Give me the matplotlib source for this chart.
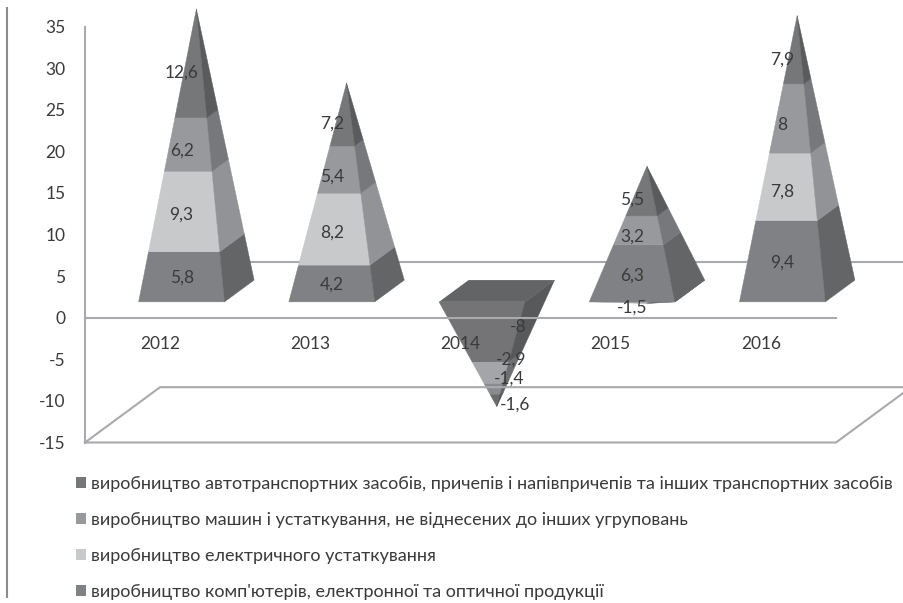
import matplotlib
matplotlib.use("Agg")
import matplotlib.pyplot as plt
from matplotlib.lines import Line2D
from matplotlib.patches import Patch, Polygon
import numpy as np

plt.rcParams["font.family"] = ["Lato", "Open Sans", "DejaVu Sans"]
plt.rcParams["axes.unicode_minus"] = False

years = ["2012", "2013", "2014", "2015", "2016"]
computers = [5.8, 4.2, -8, 6.3, 9.4]
electrical = [9.3, 8.2, -2.9, -1.5, 7.8]
machinery = [6.2, 5.4, -1.4, 3.2, 8]
vehicles = [12.6, 7.2, -1.6, 5.5, 7.9]
series = [computers, electrical, machinery, vehicles]

legend_labels = [
    "виробництво автотранспортних засобів, причепів і напівпричепів та інших транспортних засобів",
    "виробництво машин і устаткування, не віднесених до інших угруповань",
    "виробництво електричного устаткування",
    "виробництво комп'ютерів, електронної та оптичної продукції",
]

front_colors = ["#808184", "#c8c9cb", "#98999c", "#767779"]
side_colors = ["#646567", "#929396", "#77787b", "#5a5b5d"]
neg_front_colors = ["#747477", "#a4a5a8", "#8a8b8e", "#6a6b6d"]
neg_side_colors = ["#58595b", "#6e6f71", "#616264", "#505153"]
top_color = "#636466"
line_color = "#a9aaad"
text_color = "#3a3a3a"

# depth shear of the 3D box, in data units per full depth
SHEAR_X = 0.5
SHEAR_Y = 6.65
DEPTH_FRONT = 0.286
DEPTH_BACK = 0.68
HALF_WIDTH = 0.286

# labels of 2014 sit off the pyramid in the original (pixels)
label_shift = {(2, 0): (36, 8), (2, 1): (29, 21), (2, 2): (27, 19.5), (2, 3): (33, 6)}


def project(x, value, depth):
    return x + SHEAR_X * depth, value + SHEAR_Y * depth


def corners(cat):
    fl = project(cat - HALF_WIDTH, 0, DEPTH_FRONT)
    fr = project(cat + HALF_WIDTH, 0, DEPTH_FRONT)
    br = project(cat + HALF_WIDTH, 0, DEPTH_BACK)
    bl = project(cat - HALF_WIDTH, 0, DEPTH_BACK)
    return [np.array(p) for p in (fl, fr, br, bl)]


def draw_stack(ax, cat, items, front, side):
    """items: list of series index, value on one side of zero."""
    total = sum(v for _, v in items)
    if total == 0:
        return
    fl, fr, br, bl = corners(cat)
    center = (fl + br) / 2
    apex = center + np.array([0, total])
    done = 0.0
    if total < 0:
        ax.add_patch(Polygon([fl, fr, br, bl], closed=True, fc=top_color, ec="none",
                             zorder=2, clip_on=False))
    for idx, val in items:
        t0 = done / total
        t1 = (done + val) / total
        done += val
        lo = lambda p, t: p + (apex - p) * t
        ax.add_patch(Polygon([lo(fl, t0), lo(fr, t0), lo(fr, t1), lo(fl, t1)],
                             closed=True, fc=front[idx], ec=front[idx], lw=0.3, zorder=2, clip_on=False))
        ax.add_patch(Polygon([lo(fr, t0), lo(br, t0), lo(br, t1), lo(fr, t1)],
                             closed=True, fc=side[idx], ec=side[idx], lw=0.3, zorder=2, clip_on=False))


fig = plt.figure(figsize=(9.04, 6.03), dpi=100)
W, H = 904, 603
ax = fig.add_axes([85 / W, 1 - 442.5 / H, 751 / W, 416 / H])
ax.set_xlim(-0.5, 4.5)
ax.set_ylim(-15, 35)
ax.patch.set_alpha(0)
ax.set_axisbelow(False)

# floor and back wall lines
ax.plot([-0.5, -0.5 + SHEAR_X, 4.5 + SHEAR_X, 4.5, -0.5],
        [-15, -15 + SHEAR_Y, -15 + SHEAR_Y, -15, -15],
        color=line_color, lw=1.5, clip_on=False, zorder=4)
ax.plot([-0.5 + SHEAR_X, 4.5 + SHEAR_X], [SHEAR_Y, SHEAR_Y],
        color=line_color, lw=1.5, clip_on=False, zorder=1)

for i in range(len(years)):
    neg = [(s, series[s][i]) for s in range(4) if series[s][i] < 0]
    pos = [(s, series[s][i]) for s in range(4) if series[s][i] > 0]
    draw_stack(ax, i, neg, neg_front_colors, neg_side_colors)
    draw_stack(ax, i, pos, front_colors, side_colors)

    # data labels, centred on each segment at the front of the base
    up, down = 0.0, 0.0
    for s in range(4):
        v = series[s][i]
        if v > 0:
            mid = up + v / 2
            up += v
        else:
            mid = down + v / 2
            down += v
        x, y = project(i, mid, DEPTH_FRONT)
        dx, dy = label_shift.get((i, s), (0, 0))
        ax.annotate(f"{v:g}".replace(".", ","), (x, y), xytext=(dx * 0.72, dy * 0.72),
                    textcoords="offset points", ha="center", va="center",
                    fontsize=12.5, color=text_color, zorder=6)

ax.set_yticks(np.arange(-15, 36, 5))
ax.set_xticks(range(len(years)))
ax.set_xticklabels(years)
ax.tick_params(axis="both", length=0, labelsize=12.5, labelcolor=text_color)
ax.tick_params(axis="y", pad=14)
ax.tick_params(axis="x", pad=13)
for name in ("top", "right"):
    ax.spines[name].set_visible(False)
ax.spines["bottom"].set_position(("data", 0))
ax.spines["bottom"].set_zorder(4)
for name in ("left", "bottom"):
    ax.spines[name].set_color(line_color)
    ax.spines[name].set_linewidth(1.5)

# thin rule down the left edge of the page
fig.add_artist(Line2D([7 / W, 7 / W], [1 - 8 / H, 1 - 597 / H], color="#8c8c8c", lw=1.5))

handles = [Patch(fc=front_colors[3]), Patch(fc=front_colors[2]),
           Patch(fc=front_colors[1]), Patch(fc=front_colors[0])]
fig.legend(handles, legend_labels, loc="upper left", bbox_to_anchor=(76 / W, 1 - 476 / H),
           frameon=False, fontsize=13, labelcolor=text_color, handlelength=0.55,
           handleheight=0.55, handletextpad=0.3, labelspacing=1.1, borderpad=0, borderaxespad=0)

fig.savefig("out.png", dpi=100)
